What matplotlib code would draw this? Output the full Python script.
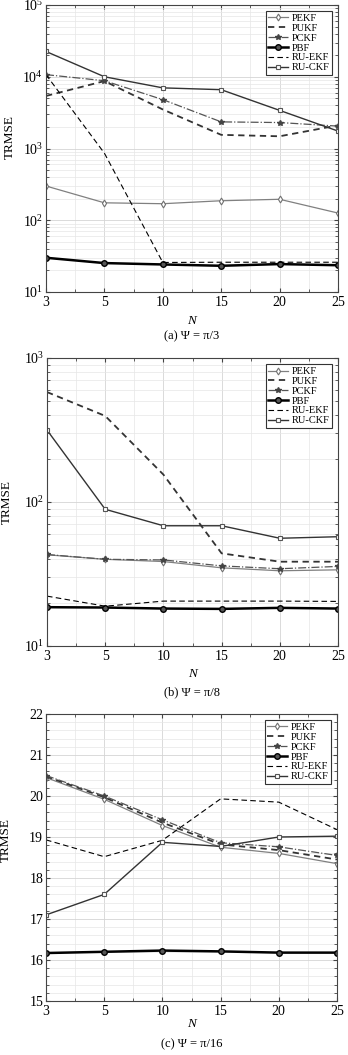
import matplotlib
matplotlib.use("Agg")
import matplotlib.pyplot as plt
from matplotlib.ticker import MultipleLocator, LogLocator, NullFormatter, FixedLocator

plt.rcParams['font.family'] = ['Liberation Serif', 'DejaVu Serif']
plt.rcParams['mathtext.fontset'] = 'stix'

# Sample counts N (evenly spaced on the x axis)
n_labels = ['3', '5', '10', '15', '20', '25']
filters = ['PEKF', 'PUKF', 'PCKF', 'PBF', 'RU-EKF', 'RU-CKF']

# (a) Psi = pi/3
a_pekf = [300, 175, 170, 187, 196, 126]
a_pukf = [5400, 8700, 3500, 1550, 1480, 2100]
a_pckf = [10700, 8800, 4800, 2350, 2300, 2050]
a_pbf = [30, 25.3, 24.2, 23.2, 24.5, 23.6]
a_ruekf = [10700, 860, 25.8, 26.0, 26.0, 26.0]
a_ruckf = [22500, 10000, 7000, 6600, 3400, 1750]

# (b) Psi = pi/8
b_pekf = [43.0, 40.0, 38.6, 34.9, 33.3, 33.8]
b_pukf = [580, 396, 155, 44, 38.5, 38.5]
b_pckf = [43.2, 40.0, 39.6, 36.0, 34.4, 35.7]
b_pbf = [18.6, 18.5, 18.2, 18.1, 18.4, 18.2]
b_ruekf = [22.2, 18.9, 20.5, 20.5, 20.5, 20.4]
b_ruckf = [316, 89, 68.4, 68.4, 56, 57.4]

# (c) Psi = pi/16
c_pekf = [20.45, 19.92, 19.28, 18.75, 18.60, 18.35]
c_pukf = [20.48, 19.97, 19.35, 18.82, 18.68, 18.45]
c_pckf = [20.50, 20.00, 19.42, 18.86, 18.76, 18.55]
c_pbf = [16.17, 16.20, 16.23, 16.21, 16.18, 16.18]
c_ruekf = [18.93, 18.52, 18.92, 19.93, 19.85, 19.18]
c_ruckf = [17.10, 17.60, 18.87, 18.77, 19.00, 19.02]

styles = {
    'PEKF': dict(color='#808080', ls='-', lw=0.9, marker='d', ms=3.5, mfc='white', mec='#707070', mew=0.8),
    'PUKF': dict(color='#333333', ls=(0, (3.5, 2.5)), lw=1.3),
    'PCKF': dict(color='#555555', ls='-.', lw=0.9, marker='*', ms=4, mfc='#444444', mec='#444444'),
    'PBF': dict(color='black', ls='-', lw=1.8, marker='o', ms=4, mfc='#555555', mec='black', mew=1.0),
    'RU-EKF': dict(color='black', ls=(0, (5, 3)), lw=0.8),
    'RU-CKF': dict(color='#333333', ls='-', lw=1.0, marker='s', ms=3, mfc='white', mec='#555555', mew=0.8),
}

W, H = 348, 1055
fig = plt.figure(figsize=(W / 100, H / 100), dpi=100)


def px_axes(left, top, right, bottom):
    return fig.add_axes([left / W, 1 - bottom / H, (right - left) / W, (bottom - top) / H])


panels = [
    dict(box=(46, 5, 338, 292), data=[a_pekf, a_pukf, a_pckf, a_pbf, a_ruekf, a_ruckf],
         log=True, ylim=(10, 1e5), caption='(a) Ψ = π/3', ncap=321, ycap=336, ylab=(-0.105, 0.54)),
    dict(box=(47, 358, 338, 646), data=[b_pekf, b_pukf, b_pckf, b_pbf, b_ruekf, b_ruckf],
         log=True, ylim=(10, 1e3), caption='(b) Ψ = π/8', ncap=674, ycap=692, ylab=(-0.117, 0.5)),
    dict(box=(46, 714, 337, 1001), data=[c_pekf, c_pukf, c_pckf, c_pbf, c_ruekf, c_ruckf],
         log=False, ylim=(15, 22), caption='(c) Ψ = π/16', ncap=1024, ycap=1044, ylab=(-0.116, 0.56)),
]

x = list(range(len(n_labels)))
for p in panels:
    ax = px_axes(*p['box'])
    for name, vals in zip(filters, p['data']):
        ax.plot(x, vals, label=name, **styles[name])
    ax.set_xlim(0, len(n_labels) - 1)
    ax.set_xticks(x)
    ax.set_xticklabels(n_labels)
    ax.xaxis.set_minor_locator(FixedLocator([i + 0.5 for i in x[:-1]]))
    if p['log']:
        ax.set_yscale('log')
        ax.yaxis.set_major_locator(LogLocator(base=10, numticks=10))
        ax.yaxis.set_minor_locator(LogLocator(base=10, subs=range(2, 10), numticks=20))
        ax.yaxis.set_minor_formatter(NullFormatter())
    else:
        ax.yaxis.set_major_locator(MultipleLocator(1))
        ax.yaxis.set_minor_locator(MultipleLocator(0.2))
    ax.set_ylim(*p['ylim'])
    ax.grid(True, which='major', color='#d4d4d4', lw=0.6)
    ax.grid(True, which='minor', color='#e6e6e6', lw=0.5)
    ax.set_axisbelow(True)
    ax.tick_params(which='both', direction='in', top=True, right=True, labelsize=10, pad=3,
                   color='#444444')
    ax.tick_params(axis='y', pad=2)
    ax.tick_params(which='major', length=3)
    ax.tick_params(which='minor', length=2)
    for s in ax.spines.values():
        s.set_color('#444444')
        s.set_linewidth(0.8)
    ax.set_ylabel('TRMSE', fontsize=9.5)
    ax.yaxis.set_label_coords(*p['ylab'])
    leg = ax.legend(loc='upper right', fontsize=7.5, frameon=True, fancybox=False,
                    edgecolor='#333333', framealpha=1, borderpad=0.25, labelspacing=0.05,
                    handlelength=1.9, handletextpad=0.3, borderaxespad=0.6)
    leg.get_frame().set_linewidth(0.8)
    cx = (p['box'][0] + p['box'][2]) / 2 / W
    fig.text(cx, 1 - p['ncap'] / H, 'N', style='italic', fontsize=9.5, ha='center', va='center')
    fig.text(cx, 1 - p['ycap'] / H, p['caption'], fontsize=9, ha='center', va='center')

fig.savefig('out.png', dpi=100)
